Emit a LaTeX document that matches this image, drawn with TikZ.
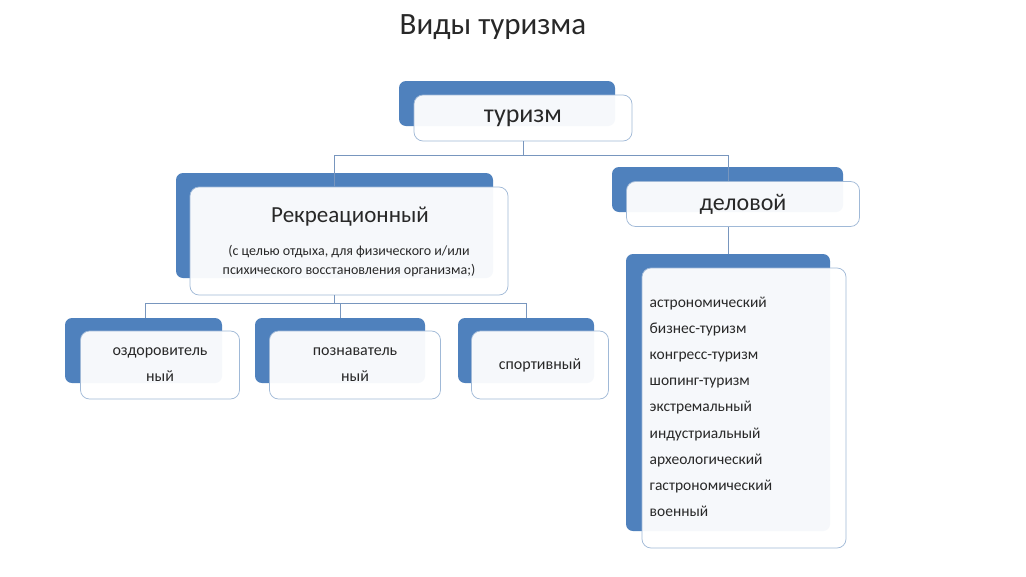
\documentclass[tikz,border=0pt]{standalone}
\usepackage{fontspec}
\setmainfont{Carlito}
\tikzset{every picture/.style={line width=0.75pt}}
\definecolor{accblue}{RGB}{79,129,189}
\definecolor{edgeblue}{RGB}{160,185,215}
\definecolor{wirecol}{RGB}{120,150,190}
\definecolor{inkgray}{RGB}{40,40,40}
\tikzset{
  backbox/.style={fill=accblue, rounded corners=7pt},
  frontbox/.style={draw=edgeblue, fill=white, fill opacity=0.95, text opacity=1, rounded corners=9pt, inner sep=0pt, align=center, text=inkgray},
  wire/.style={draw=wirecol, line width=0.8pt}
}
\begin{document}
\begin{tikzpicture}[x=1pt,y=-1pt]
        \useasboundingbox[fill=white] (0,0) rectangle (1026,576);

        % Title
        \node[text=inkgray, font=\fontsize{31}{35}\selectfont] (title) at (493,27) {Виды туризма};

        % Back boxes
        \fill[backbox] (399,81) rectangle (615,126);
        \fill[backbox] (176,173) rectangle (493,278);
        \fill[backbox] (612,167) rectangle (843,212);
        \fill[backbox] (65,318) rectangle (222,383);
        \fill[backbox] (255,318) rectangle (425,383);
        \fill[backbox] (458,318) rectangle (594,383);
        \fill[backbox] (626,254) rectangle (830,531);

        % Front boxes
        \node[frontbox, minimum width=218pt, minimum height=46pt, font=\fontsize{26}{30}\selectfont] (tur) at (523,118) {туризм};
        \node[frontbox, minimum width=318pt, minimum height=108pt] (rek) at (349,241) {};
        \node[text=inkgray, font=\fontsize{23}{27}\selectfont] (rektitle) at (350,217) {Рекреационный};
        \node[align=center, text=inkgray, font=\fontsize{14}{19}\selectfont] (rektext) at (349,261) {(с целью отдыха, для физического и/или\\ психического восстановления организма;)};
        \node[frontbox, minimum width=233pt, minimum height=45pt, font=\fontsize{24}{28}\selectfont] (del) at (743,204) {деловой};
        \node[frontbox, minimum width=159pt, minimum height=68pt, font=\fontsize{16}{26}\selectfont] (ozd) at (160,365) {оздоровитель\\ный};
        \node[frontbox, minimum width=171pt, minimum height=68pt, font=\fontsize{16}{26}\selectfont] (poz) at (355,365) {познаватель\\ный};
        \node[frontbox, minimum width=137pt, minimum height=68pt, font=\fontsize{16}{26}\selectfont] (spo) at (540,365) {спортивный};
        \node[frontbox, minimum width=204pt, minimum height=280pt] (biz) at (744,408) {};
        \node[anchor=north west, align=left, text=inkgray, font=\fontsize{15.5}{26.2}\selectfont] (bizlist) at (646,293) {астрономический\\бизнес-туризм\\конгресс-туризм\\шопинг-туризм\\экстремальный\\индустриальный\\археологический\\гастрономический\\военный};

        % Connectors
        \coordinate (busA) at (0,155);
        \draw[wire] (tur.south) -- (tur.south |- busA);
        \draw[wire] (rek.north -| 334,0) |- (tur.south |- busA);
        \draw[wire] (del.north -| 728,0) |- (tur.south |- busA);
        \draw[wire] (rek.south -| 334,0) -- (334,303);
        \draw[wire] (145,318) |- (526,303) -- (526,318);
        \draw[wire] (340,303) -- (340,318);
        \draw[wire] (del.south -| 728,0) -- (728,254);
\end{tikzpicture}
\end{document}
